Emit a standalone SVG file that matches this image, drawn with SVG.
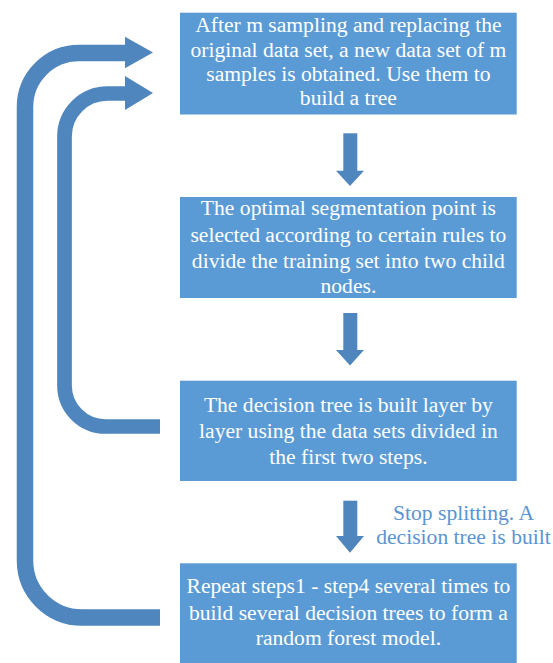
<svg xmlns="http://www.w3.org/2000/svg" width="553" height="663" viewBox="0 0 553 663">
<style>
.box{fill:#5b9bd5;}
.t{font-family:"Times New Roman",serif;font-size:21.6px;fill:#ffffff;text-anchor:middle;}
.lbl{font-family:"Times New Roman",serif;font-size:21.6px;fill:#5a94d2;text-anchor:middle;}
.shaft{fill:none;stroke:#4f86bd;}
.ah{fill:#4f86bd;}
</style>
<rect width="553" height="663" fill="#ffffff"/>
<g id="connectors">
<path class="shaft" stroke-width="16.5" d="M160,617.5 H82 A57,57 0 0 1 25,560.5 V107 A54,54 0 0 1 79,53 H127"/>
<polygon class="ah" points="125,36.7 153,52.5 125,68.3"/>
<path class="shaft" stroke-width="14.7" d="M160,426.5 H105.5 A41,41 0 0 1 64.5,385.5 V136.5 A43,43 0 0 1 107.5,93.5 H127"/>
<polygon class="ah" points="125,76 153,93 125,110"/>
<rect class="ah" x="343.3" y="133.3" width="14" height="38"/>
<polygon class="ah" points="336,170.7 364,170.7 350,186"/>
<rect class="ah" x="343.3" y="313" width="14" height="38"/>
<polygon class="ah" points="336,350 364,350 350,365.5"/>
<rect class="ah" x="343.3" y="500.7" width="14" height="36"/>
<polygon class="ah" points="336,536 364,536 350,552.7"/>
<text class="lbl" x="463.5" y="520">Stop splitting. A</text>
<text class="lbl" x="463.5" y="543.5">decision tree is built</text>
</g>
<g id="node1">
<rect class="box" x="180" y="12.7" width="336.7" height="101.8"/>
<text class="t" x="348.4" y="32">After m sampling and replacing the</text>
<text class="t" x="348.4" y="57">original data set, a new data set of m</text>
<text class="t" x="348.4" y="80.5">samples is obtained. Use them to</text>
<text class="t" x="348.4" y="105">build a tree</text>
</g>
<g id="node2">
<rect class="box" x="180" y="197" width="336.7" height="101"/>
<text class="t" x="348.4" y="215">The optimal segmentation point is</text>
<text class="t" x="348.4" y="242">selected according to certain rules to</text>
<text class="t" x="348.4" y="268">divide the training set into two child</text>
<text class="t" x="348.4" y="293">nodes.</text>
</g>
<g id="node3">
<rect class="box" x="180" y="380.7" width="336.7" height="100.3"/>
<text class="t" x="348.4" y="411.5">The decision tree is built layer by</text>
<text class="t" x="348.4" y="438">layer using the data sets divided in</text>
<text class="t" x="348.4" y="463.5">the first two steps.</text>
</g>
<g id="node4">
<rect class="box" x="180" y="563.3" width="336.7" height="100"/>
<text class="t" x="348.4" y="593">Repeat steps1 - step4 several times to</text>
<text class="t" x="348.4" y="620">build several decision trees to form a</text>
<text class="t" x="348.4" y="645">random forest model.</text>
</g>
</svg>
